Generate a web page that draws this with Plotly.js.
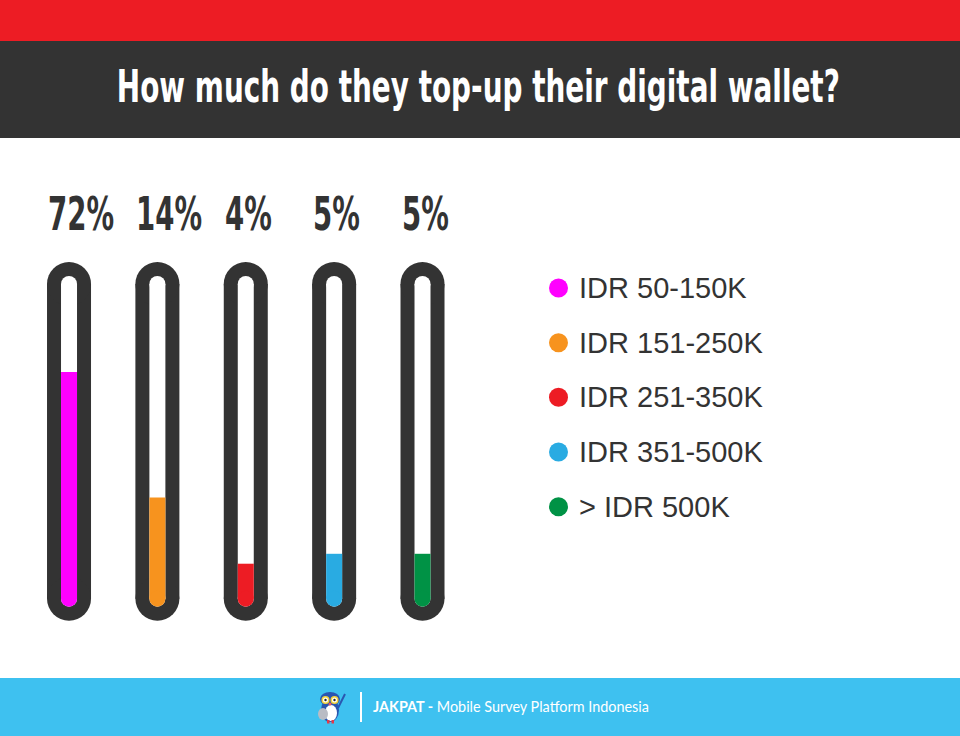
<!DOCTYPE html>
<html>
<head>
<meta charset="utf-8">
<script src="https://cdn.plot.ly/plotly-3.0.1.min.js"></script>
<style>
  html, body { margin: 0; padding: 0; background: #ffffff; }
  #chart { width: 960px; height: 736px; }
</style>
</head>
<body>
<div id="chart"></div>
<script>
// ---- data ----
const categories = ['IDR 50-150K', 'IDR 151-250K', 'IDR 251-350K', 'IDR 351-500K', '> IDR 500K'];
const shares = [72, 14, 4, 5, 5];              // printed percentages
const tubeFill = [71, 33, 13, 16, 16];         // visible fill level of each tube (% of tube height)
const colors = ['#ff00ff', '#f7931e', '#ed1c24', '#29abe2', '#009245'];
const titleText = 'How much do they top-up their digital wallet?';
const footerText = '<b>JAKPAT -</b> Mobile Survey Platform Indonesia';

// ---- helpers (pixel -> paper) ----
const W = 960, H = 736;
const PX = p => p / W;
const PY = p => 1 - p / H;

const TUBE_MIN = 0, TUBE_MAX = 100;
const CAP = 2.42;           // inner cap radius in y units
const DARK = '#333333';
const HEAVY = 'DejaVu Sans, Arial, sans-serif';

const traces = [];

// outer dark capsules
traces.push({
  type: 'scatter', mode: 'lines+markers', hoverinfo: 'skip', showlegend: false,
  x: categories.flatMap(c => [c, c, null]),
  y: categories.flatMap(() => [TUBE_MIN + CAP, TUBE_MAX - CAP, null]),
  line: { color: DARK, width: 44 },
  marker: { color: DARK, size: 44, opacity: 1, line: { width: 0 } },
  connectgaps: false
});
// inner white channel
traces.push({
  type: 'scatter', mode: 'lines+markers', hoverinfo: 'skip', showlegend: false,
  x: categories.flatMap(c => [c, c, null]),
  y: categories.flatMap(() => [TUBE_MIN + CAP, TUBE_MAX - CAP, null]),
  line: { color: '#ffffff', width: 16 },
  marker: { color: '#ffffff', size: 16, opacity: 1, line: { width: 0 } },
  connectgaps: false
});
// coloured fills
categories.forEach((c, i) => {
  traces.push({
    type: 'scatter', mode: 'lines+markers', hoverinfo: 'skip', showlegend: false, name: c,
    x: [c, c],
    y: [TUBE_MIN + CAP, tubeFill[i]],
    line: { color: colors[i], width: 16 },
    marker: { color: colors[i], size: [16, 0], opacity: 1, line: { width: 0 } }
  });
});
// legend dots
traces.push({
  type: 'scatter', mode: 'markers', hoverinfo: 'skip', showlegend: false,
  xaxis: 'x2', yaxis: 'y2',
  x: categories.map(() => 0),
  y: categories,
  marker: { color: colors, size: 19, opacity: 1, line: { width: 0 } }
});

const annotations = [];
// percentage labels
categories.forEach((c, i) => {
  annotations.push({
    xref: 'x', yref: 'paper', x: c, y: PY(214), xshift: -23,
    xanchor: 'left', yanchor: 'middle', align: 'left', showarrow: false,
    text: shares[i] + '%',
    font: { family: HEAVY, size: 46, weight: 'bold', color: DARK }
  });
});
// legend labels
categories.forEach((c, i) => {
  annotations.push({
    xref: 'x2', yref: 'y2', x: 0, y: c, xshift: 18,
    xanchor: 'left', yanchor: 'middle', showarrow: false,
    text: c,
    font: { family: 'Liberation Sans, Arial, Helvetica, sans-serif', size: 29, color: DARK }
  });
});
// title
annotations.push({
  xref: 'paper', yref: 'paper', x: PX(478), y: PY(86), xanchor: 'center', yanchor: 'middle',
  showarrow: false, text: titleText,
  font: { family: HEAVY, size: 45, weight: 'bold', color: '#ffffff' }
});
// footer
annotations.push({
  xref: 'paper', yref: 'paper', x: PX(371), y: PY(706), xanchor: 'left', yanchor: 'middle',
  showarrow: false, text: footerText,
  font: { family: 'Lato, Open Sans, sans-serif', size: 14.4, color: '#ffffff' }
});

const rect = (x0, y0, x1, y1, color, layer) => ({
  type: 'rect', xref: 'paper', yref: 'paper', layer: layer || 'below',
  x0: PX(x0), x1: PX(x1), y0: PY(y0), y1: PY(y1),
  fillcolor: color, line: { width: 0 }
});
const circ = (cx, cy, rx, ry, color) => ({
  type: 'circle', xref: 'paper', yref: 'paper', layer: 'above',
  x0: PX(cx - rx), x1: PX(cx + rx), y0: PY(cy + ry), y1: PY(cy - ry),
  fillcolor: color, line: { width: 0 }
});

const shapes = [
  rect(0, 0, 960, 41, '#ed1c24'),
  rect(0, 41, 960, 138, '#333333'),
  rect(0, 678, 960, 736, '#3ec1f0'),
  // footer divider
  { type: 'line', xref: 'paper', yref: 'paper', x0: PX(361), x1: PX(361), y0: PY(692), y1: PY(722),
    line: { color: '#ffffff', width: 2 } },
  // owl mascot (decorative)
  { type: 'line', xref: 'paper', yref: 'paper', x0: PX(338), x1: PX(345), y0: PY(708), y1: PY(694),
    line: { color: '#2a56b0', width: 2 } },
  circ(330, 710, 9, 12, '#2a56b0'),
  circ(330, 699, 10, 7, '#2a56b0'),
  circ(331, 713, 6, 8, '#ffffff'),
  circ(325.5, 700, 4, 4, '#f5d33a'),
  circ(334.5, 700, 4, 4, '#f5d33a'),
  circ(325.5, 700, 2.5, 2.5, '#ffffff'),
  circ(334.5, 700, 2.5, 2.5, '#ffffff'),
  circ(325.5, 700, 1.2, 1.2, '#222222'),
  circ(334.5, 700, 1.2, 1.2, '#222222'),
  circ(330, 704, 1.5, 1.5, '#f15a5a'),
  circ(323, 714, 5, 6, '#b9bcc4'),
  rect(327, 720, 329.5, 723.5, '#e23a4a', 'above'),
  rect(331.5, 720, 334, 723.5, '#e23a4a', 'above')
];

const layout = {
  width: W, height: H,
  margin: { l: 0, r: 0, t: 0, b: 0, pad: 0 },
  paper_bgcolor: '#ffffff', plot_bgcolor: 'rgba(0,0,0,0)',
  showlegend: false,
  xaxis: { type: 'category', categoryarray: categories, range: [-0.781, 10.082], domain: [0, 1],
           visible: false, fixedrange: true },
  yaxis: { range: [-39.1, 183.46], domain: [0, 1], visible: false, fixedrange: true },
  xaxis2: { range: [-558.5, 401.5], overlaying: 'x', anchor: 'y2', visible: false, fixedrange: true },
  yaxis2: { type: 'category', categoryarray: categories, range: [8.194, -5.267], overlaying: 'y',
            anchor: 'x2', visible: false, fixedrange: true },
  shapes: shapes,
  annotations: annotations
};

// emulate the condensed display face by horizontally scaling the real text about its anchor,
// and shrink the annotation's box to match
function condense(textEl, factor, centred) {
  if (!textEl) return;
  const w = textEl.getComputedTextLength();
  const nw = w * factor;
  const ax = parseFloat(textEl.getAttribute('x')) || 0;
  textEl.setAttribute('transform',
    'translate(' + ax + ',0) scale(' + factor + ',1) translate(' + (-ax) + ',0)');
  const g = textEl.closest('.annotation-text-g') || textEl.parentNode;
  const bg = g ? g.querySelector('rect.bg') : null;
  if (bg) {
    const bw = parseFloat(bg.getAttribute('width')) || 0;
    const bx = parseFloat(bg.getAttribute('x')) || 0;
    const d = w - nw;
    bg.setAttribute('width', Math.max(0, bw - d).toFixed(1));
    if (centred) bg.setAttribute('x', (bx + d / 2).toFixed(1));
  }
}

Plotly.newPlot('chart', traces, layout, { staticPlot: true, displayModeBar: false }).then(gd => {
  const texts = gd.querySelectorAll('.annotation .annotation-text');
  const n = categories.length;
  for (let i = 0; i < n; i++) condense(texts[i], 0.6, false);
  condense(texts[2 * n], 0.62, true);
});
</script>
</body>
</html>
